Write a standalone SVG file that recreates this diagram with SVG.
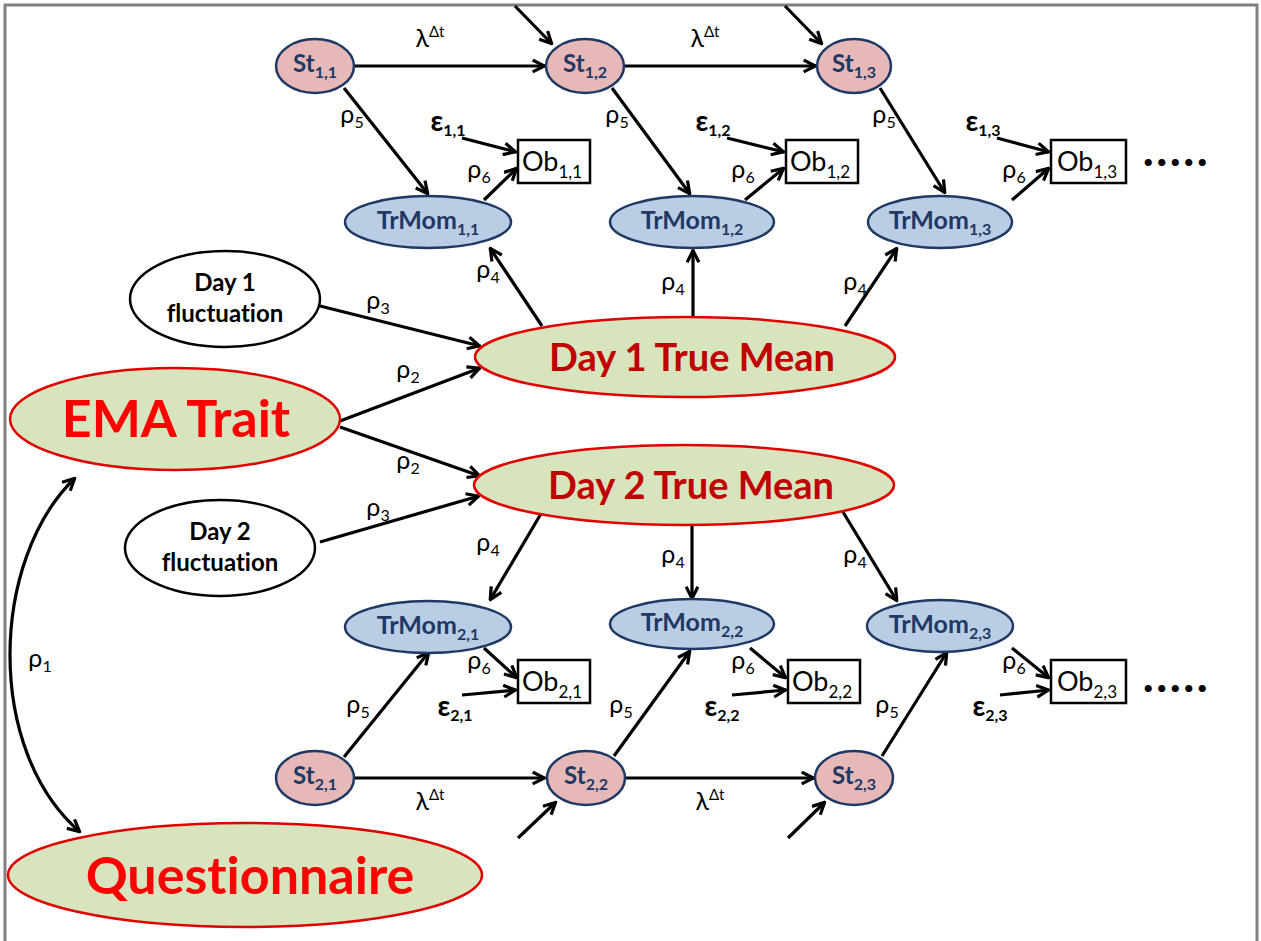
<svg xmlns="http://www.w3.org/2000/svg" width="1261" height="941" viewBox="0 0 1261 941">
<defs>
<marker id="ah" viewBox="0 0 14 14" refX="13" refY="7" markerWidth="15" markerHeight="15" markerUnits="userSpaceOnUse" orient="auto-start-reverse">
<path d="M1.5,1.5 L12.5,7 L1.5,12.5" fill="none" stroke="#000" stroke-width="3" stroke-linejoin="miter"/>
</marker>
<style>
text{font-variant-ligatures:none}
.c{fill:none;stroke:#000;stroke-width:3.2;marker-end:url(#ah)}
.st{fill:#e6b9b8;stroke:#1f3864;stroke-width:2.5}
.tm{fill:#b9cde5;stroke:#1f3864;stroke-width:2.5}
.gr{fill:#d7e4bd;stroke:#e00000;stroke-width:2.5}
.wh{fill:#fff;stroke:#000;stroke-width:2.5}
.ob{fill:#fff;stroke:#000;stroke-width:2.5}
.nt{font-family:Lato,"Liberation Sans",sans-serif;font-weight:bold;fill:#1f3864;text-anchor:middle}
.lb{font-family:Lato,"Liberation Sans",sans-serif;fill:#000;text-anchor:middle;font-size:25px}
.eb{font-family:Lato,"Liberation Sans",sans-serif;fill:#000;text-anchor:middle;font-size:28px;font-weight:bold}
.big{font-family:Lato,"Liberation Sans",sans-serif;font-weight:bold;fill:#ff0000;text-anchor:middle;font-size:52px}
.dm{font-family:Lato,"Liberation Sans",sans-serif;font-weight:bold;fill:#c00000;text-anchor:middle;font-size:38px}
.fl{font-family:Lato,"Liberation Sans",sans-serif;font-weight:bold;fill:#000;text-anchor:middle;font-size:24px}
.obt{font-family:Lato,"Liberation Sans",sans-serif;fill:#000;text-anchor:middle;font-size:27px}
.dots{font-family:Lato,"Liberation Sans",sans-serif;font-weight:900;fill:#000;font-size:44px;letter-spacing:3px}
</style>
</defs>
<rect width="1261" height="941" fill="#fff"/>
<path d="M5,941 V5 H1257 V941" fill="none" stroke="#808080" stroke-width="3"/>

<g id="connectors">
<line class="c" x1="355" y1="66" x2="545" y2="66"/>
<line class="c" x1="625" y1="66" x2="816" y2="66"/>
<line class="c" x1="515" y1="6" x2="552" y2="44"/>
<line class="c" x1="785" y1="6" x2="822" y2="44"/>
<line class="c" x1="344" y1="88" x2="428" y2="194"/>
<line class="c" x1="612" y1="88" x2="690" y2="194"/>
<line class="c" x1="880" y1="88" x2="945" y2="193"/>
<line class="c" x1="462" y1="138" x2="516" y2="152"/>
<line class="c" x1="727" y1="138" x2="784" y2="152"/>
<line class="c" x1="997" y1="138" x2="1049" y2="152"/>
<line class="c" x1="484" y1="200" x2="517" y2="168"/>
<line class="c" x1="745" y1="200" x2="784" y2="168"/>
<line class="c" x1="1012" y1="200" x2="1049" y2="168"/>
<line class="c" x1="542" y1="326" x2="490" y2="248"/>
<line class="c" x1="693" y1="317" x2="693" y2="250"/>
<line class="c" x1="845" y1="326" x2="897" y2="248"/>
<line class="c" x1="320" y1="306" x2="480" y2="346"/>
<line class="c" x1="340" y1="421" x2="480" y2="368"/>
<line class="c" x1="340" y1="427" x2="480" y2="476"/>
<line class="c" x1="320" y1="542" x2="479" y2="496"/>
<line class="c" x1="542" y1="512" x2="490" y2="600"/>
<line class="c" x1="692" y1="523" x2="692" y2="599"/>
<line class="c" x1="843" y1="512" x2="897" y2="601"/>
<line class="c" x1="484" y1="648" x2="517" y2="678"/>
<line class="c" x1="750" y1="648" x2="786" y2="678"/>
<line class="c" x1="1012" y1="648" x2="1049" y2="678"/>
<line class="c" x1="462" y1="695" x2="516" y2="690"/>
<line class="c" x1="732" y1="695" x2="786" y2="690"/>
<line class="c" x1="1000" y1="695" x2="1049" y2="690"/>
<line class="c" x1="344" y1="757" x2="429" y2="652"/>
<line class="c" x1="614" y1="756" x2="690" y2="651"/>
<line class="c" x1="882" y1="756" x2="947" y2="652"/>
<line class="c" x1="355" y1="778" x2="545" y2="778"/>
<line class="c" x1="625" y1="778" x2="814" y2="778"/>
<line class="c" x1="518" y1="838" x2="556" y2="802"/>
<line class="c" x1="788" y1="838" x2="825" y2="802"/>
<path class="c" d="M75,478 C -10,560 -15,750 80,832" style="marker-start:url(#ah)"/>
</g>

<g id="labels">
<text class="lb" x="430" y="47">λ<tspan dy="-10" font-size="15">Δt</tspan></text>
<text class="lb" x="705" y="47">λ<tspan dy="-10" font-size="15">Δt</tspan></text>
<text class="lb" x="430" y="810">λ<tspan dy="-10" font-size="15">Δt</tspan></text>
<text class="lb" x="710" y="810">λ<tspan dy="-10" font-size="15">Δt</tspan></text>
<text class="lb" x="352" y="123">ρ<tspan dy="5" font-size="16">5</tspan></text>
<text class="lb" x="617" y="123">ρ<tspan dy="5" font-size="16">5</tspan></text>
<text class="lb" x="884" y="123">ρ<tspan dy="5" font-size="16">5</tspan></text>
<text class="lb" x="358" y="713">ρ<tspan dy="5" font-size="16">5</tspan></text>
<text class="lb" x="621" y="713">ρ<tspan dy="5" font-size="16">5</tspan></text>
<text class="lb" x="887" y="713">ρ<tspan dy="5" font-size="16">5</tspan></text>
<text class="lb" x="479" y="178">ρ<tspan dy="5" font-size="16">6</tspan></text>
<text class="lb" x="743" y="178">ρ<tspan dy="5" font-size="16">6</tspan></text>
<text class="lb" x="1014" y="178">ρ<tspan dy="5" font-size="16">6</tspan></text>
<text class="lb" x="479" y="669">ρ<tspan dy="5" font-size="16">6</tspan></text>
<text class="lb" x="743" y="669">ρ<tspan dy="5" font-size="16">6</tspan></text>
<text class="lb" x="1014" y="669">ρ<tspan dy="5" font-size="16">6</tspan></text>
<text class="lb" x="488" y="278">ρ<tspan dy="5" font-size="16">4</tspan></text>
<text class="lb" x="673" y="290">ρ<tspan dy="5" font-size="16">4</tspan></text>
<text class="lb" x="855" y="290">ρ<tspan dy="5" font-size="16">4</tspan></text>
<text class="lb" x="488" y="551">ρ<tspan dy="5" font-size="16">4</tspan></text>
<text class="lb" x="673" y="563">ρ<tspan dy="5" font-size="16">4</tspan></text>
<text class="lb" x="855" y="563">ρ<tspan dy="5" font-size="16">4</tspan></text>
<text class="lb" x="378" y="309">ρ<tspan dy="5" font-size="16">3</tspan></text>
<text class="lb" x="378" y="516">ρ<tspan dy="5" font-size="16">3</tspan></text>
<text class="lb" x="408" y="378">ρ<tspan dy="5" font-size="16">2</tspan></text>
<text class="lb" x="408" y="469">ρ<tspan dy="5" font-size="16">2</tspan></text>
<text class="lb" x="40" y="667">ρ<tspan dy="5" font-size="16">1</tspan></text>
<text class="eb" x="448" y="131">ε<tspan dy="5" font-size="16">1,1</tspan></text>
<text class="eb" x="713" y="131">ε<tspan dy="5" font-size="16">1,2</tspan></text>
<text class="eb" x="983" y="131">ε<tspan dy="5" font-size="16">1,3</tspan></text>
<text class="eb" x="455" y="716">ε<tspan dy="5" font-size="16">2,1</tspan></text>
<text class="eb" x="722" y="716">ε<tspan dy="5" font-size="16">2,2</tspan></text>
<text class="eb" x="990" y="716">ε<tspan dy="5" font-size="16">2,3</tspan></text>
<text class="dots" x="1143" y="166">.....</text>
<text class="dots" x="1143" y="692">.....</text>
</g>

<g id="St11"><ellipse class="st" cx="315" cy="66" rx="39" ry="27"/><text class="nt" x="315" y="72" font-size="24">St<tspan dy="6" font-size="16">1,1</tspan></text></g>
<g id="St12"><ellipse class="st" cx="585" cy="66" rx="39" ry="27"/><text class="nt" x="585" y="72" font-size="24">St<tspan dy="6" font-size="16">1,2</tspan></text></g>
<g id="St13"><ellipse class="st" cx="854" cy="66" rx="37" ry="27"/><text class="nt" x="854" y="72" font-size="24">St<tspan dy="6" font-size="16">1,3</tspan></text></g>

<g id="Ob11"><rect class="ob" x="518" y="140" width="72" height="43"/><text class="obt" x="552" y="171">Ob<tspan dy="7" font-size="17">1,1</tspan></text></g>
<g id="Ob12"><rect class="ob" x="786" y="140" width="72" height="43"/><text class="obt" x="820" y="171">Ob<tspan dy="7" font-size="17">1,2</tspan></text></g>
<g id="Ob13"><rect class="ob" x="1051" y="140" width="75" height="43"/><text class="obt" x="1087" y="171">Ob<tspan dy="7" font-size="17">1,3</tspan></text></g>

<g id="TrMom11"><ellipse class="tm" cx="428" cy="222" rx="83" ry="26"/><text class="nt" x="428" y="229" font-size="25">TrMom<tspan dy="6" font-size="16">1,1</tspan></text></g>
<g id="TrMom12"><ellipse class="tm" cx="692" cy="222" rx="82" ry="26"/><text class="nt" x="692" y="229" font-size="25">TrMom<tspan dy="6" font-size="16">1,2</tspan></text></g>
<g id="TrMom13"><ellipse class="tm" cx="940" cy="222" rx="72" ry="26"/><text class="nt" x="940" y="229" font-size="25">TrMom<tspan dy="6" font-size="16">1,3</tspan></text></g>

<g id="Day1Fluct"><ellipse class="wh" cx="225" cy="299" rx="95" ry="48"/><text class="fl" x="225" y="291">Day 1</text><text class="fl" x="225" y="322">fluctuation</text></g>
<g id="Day1Mean"><ellipse class="gr" cx="685" cy="357" rx="210" ry="40"/><text class="dm" x="692" y="371">Day 1 True Mean</text></g>
<g id="EMATrait"><ellipse class="gr" cx="175" cy="419" rx="165" ry="51"/><text class="big" x="176" y="437">EMA Trait</text></g>
<g id="Day2Mean"><ellipse class="gr" cx="684" cy="485" rx="210" ry="40"/><text class="dm" x="691" y="499">Day 2 True Mean</text></g>
<g id="Day2Fluct"><ellipse class="wh" cx="220" cy="548" rx="95" ry="48"/><text class="fl" x="220" y="540">Day 2</text><text class="fl" x="220" y="571">fluctuation</text></g>

<g id="TrMom21"><ellipse class="tm" cx="428" cy="627" rx="83" ry="26"/><text class="nt" x="428" y="634" font-size="25">TrMom<tspan dy="6" font-size="16">2,1</tspan></text></g>
<g id="TrMom22"><ellipse class="tm" cx="692" cy="624" rx="82" ry="25"/><text class="nt" x="692" y="631" font-size="25">TrMom<tspan dy="6" font-size="16">2,2</tspan></text></g>
<g id="TrMom23"><ellipse class="tm" cx="940" cy="626" rx="73" ry="26"/><text class="nt" x="940" y="633" font-size="25">TrMom<tspan dy="6" font-size="16">2,3</tspan></text></g>

<g id="Ob21"><rect class="ob" x="518" y="660" width="72" height="43"/><text class="obt" x="552" y="691">Ob<tspan dy="7" font-size="17">2,1</tspan></text></g>
<g id="Ob22"><rect class="ob" x="788" y="660" width="72" height="43"/><text class="obt" x="822" y="691">Ob<tspan dy="7" font-size="17">2,2</tspan></text></g>
<g id="Ob23"><rect class="ob" x="1051" y="660" width="75" height="43"/><text class="obt" x="1087" y="691">Ob<tspan dy="7" font-size="17">2,3</tspan></text></g>

<g id="St21"><ellipse class="st" cx="315" cy="778" rx="39" ry="27"/><text class="nt" x="315" y="784" font-size="24">St<tspan dy="6" font-size="16">2,1</tspan></text></g>
<g id="St22"><ellipse class="st" cx="586" cy="778" rx="39" ry="27"/><text class="nt" x="586" y="784" font-size="24">St<tspan dy="6" font-size="16">2,2</tspan></text></g>
<g id="St23"><ellipse class="st" cx="854" cy="778" rx="39" ry="27"/><text class="nt" x="854" y="784" font-size="24">St<tspan dy="6" font-size="16">2,3</tspan></text></g>

<g id="Questionnaire"><ellipse class="gr" cx="245" cy="875" rx="237" ry="52"/><text class="big" x="250" y="894">Questionnaire</text></g>
</svg>
